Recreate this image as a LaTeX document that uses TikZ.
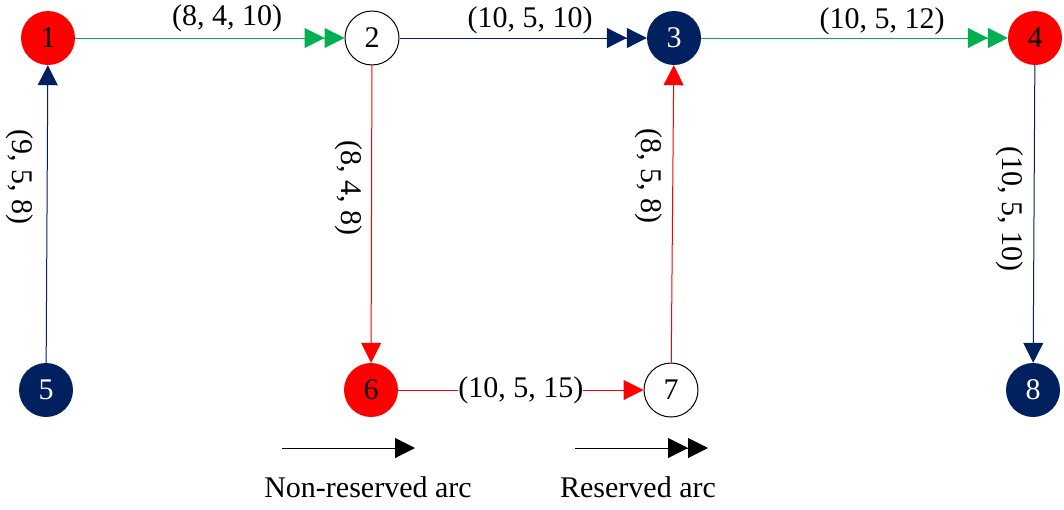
\documentclass[tikz,border=0pt]{standalone}
\usepackage{fontspec}
\setmainfont{Liberation Serif}
\usetikzlibrary{arrows.meta}
\definecolor{gr}{HTML}{00B050}
\definecolor{nv}{HTML}{002060}
\definecolor{rd}{HTML}{FF0000}
\begin{document}
\begin{tikzpicture}[x=1pt,y=-1pt,
  font=\fontsize{30}{35}\selectfont,
  vtx/.style={circle, minimum size=54pt, inner sep=0pt},
  redv/.style={vtx, fill=rd},
  navyv/.style={vtx, fill=nv, text=white},
  whitev/.style={vtx, draw=black, line width=1pt, fill=white},
  single/.style={line width=1pt, -{Triangle[length=20pt,width=20pt]}},
  double/.style={line width=1pt, -{Triangle[length=20pt,width=20pt,sep=0pt]Triangle[length=20pt,width=20pt]}},
  lbl/.style={inner sep=0pt, anchor=base},
  vlbl/.style={inner sep=0pt, rotate=-90}
]
\useasboundingbox (0,0) rectangle (1064,509);
% vertices
\node[redv]   (n1) at (48,38)   {1};
\node[whitev] (n2) at (372,38)  {2};
\node[navyv]  (n3) at (674,38)  {3};
\node[redv]   (n4) at (1035,38) {4};
\node[navyv]  (n5) at (46,390)  {5};
\node[redv]   (n6) at (371,390) {6};
\node[whitev] (n7) at (671,390) {7};
\node[navyv]  (n8) at (1033,390) {8};
% arcs
\draw[double, gr] (n1) -- (n2);
\draw[double, nv] (n2) -- (n3);
\draw[double, gr] (n3) -- (n4);
\draw[single, nv] (n5) -- (n1);
\draw[single, rd] (n2) -- (n6);
\draw[single, rd] (n7) -- (n3);
\draw[single, nv] (n4) -- (n8);
\draw[single, rd] (n6) -- node[fill=white, text=black, inner sep=0pt, pos=0.5] (l67) {(10, 5, 15)} (n7);
% labels
\node[lbl] (l12) at (227,25) {(8, 4, 10)};
\node[lbl] (l23) at (530,27) {(10, 5, 10)};
\node[lbl] (l34) at (882,28) {(10, 5, 12)};
\node[vlbl] (l51) at (20,177) {(9, 5, 8)};
\node[vlbl] (l26) at (349,188) {(8, 4, 8)};
\node[vlbl] (l73) at (649,176) {(8, 5, 8)};
\node[vlbl] (l48) at (1010,209) {(10, 5, 10)};
% legend
\coordinate (a1) at (282,448);
\coordinate (a2) at (415,448);
\coordinate (b1) at (575,448);
\coordinate (b2) at (708,448);
\draw[single, black] (a1) -- (a2);
\draw[double, black] (b1) -- (b2);
\node[lbl] (t1) at (368,497) {Non-reserved arc};
\node[lbl] (t2) at (638,497) {Reserved arc};
\end{tikzpicture}
\end{document}
